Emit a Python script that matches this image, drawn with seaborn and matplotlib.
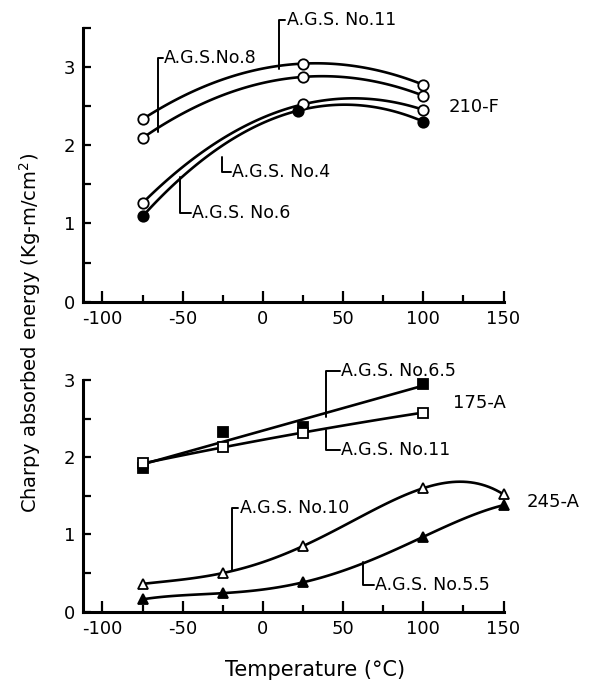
import numpy as np
import pandas as pd
import matplotlib
matplotlib.use('Agg')
import matplotlib.pyplot as plt
import seaborn as sns

sns.set_style('ticks')
plt.rcParams['font.family'] = ['DejaVu Sans']
plt.rcParams['axes.unicode_minus'] = False
for key in ['text.color', 'axes.labelcolor', 'xtick.color', 'ytick.color', 'axes.edgecolor']:
    plt.rcParams[key] = 'black'

# 210-F steel (upper panel)
temp_top = [-75, 25, 100]
ags11_top = [2.33, 3.04, 2.77]
ags8_top = [2.09, 2.87, 2.63]
ags4_top = [1.26, 2.52, 2.45]
temp_ags6 = [-75, 22, 100]
ags6_top = [1.09, 2.44, 2.30]

# 175-A and 245-A steels (lower panel)
temp_175 = [-75, -25, 25, 100]
ags65_175 = [1.86, 2.33, 2.39, 2.95]
ags11_175 = [1.92, 2.13, 2.32, 2.58]
temp_245 = [-75, -25, 25, 100, 150]
ags10_245 = [0.36, 0.50, 0.85, 1.60, 1.52]
ags55_245 = [0.16, 0.24, 0.38, 0.97, 1.38]

x_ticks = [-100, -50, 0, 50, 100, 150]

# leader labels: text, leader x, y start on curve, y at text, text x
labels_top = [
    ('A.G.S.No.8', -65.4, 2.17, 3.11, -61.5),
    ('A.G.S. No.11', 10.2, 2.97, 3.60, 15.0),
    ('A.G.S. No.4', -25.4, 1.85, 1.66, -19.0),
    ('A.G.S. No.6', -51.7, 1.59, 1.13, -44.0),
]
labels_bot = [
    ('A.G.S. No.6.5', 39.6, 2.52, 3.12, 49.0),
    ('A.G.S. No.11', 39.6, 2.36, 2.10, 49.0),
    ('A.G.S. No.10', -19.2, 0.54, 1.34, -14.5),
    ('A.G.S. No.5.5', 62.6, 0.64, 0.35, 70.0),
]

LW = 1.9
MS = 7.5

fig = plt.figure(figsize=(6.03, 6.81), dpi=100)
ax1 = fig.add_axes([0.138, 0.557, 0.697, 0.4025])
ax2 = fig.add_axes([0.138, 0.1018, 0.697, 0.340])


def curve(ax, x, y, order, marker, filled, fill='full'):
    df = pd.DataFrame({'T': x, 'E': y})
    sns.regplot(data=df, x='T', y='E', order=order, ci=None, scatter=False, ax=ax,
                line_kws=dict(color='black', lw=LW, zorder=2))
    ax.plot(x, y, ls='none', marker=marker, ms=MS, mec='black', mew=1.3,
            mfc='black' if filled else 'white', fillstyle=fill,
            markerfacecoloralt='white', zorder=3, clip_on=False)


curve(ax1, temp_top, ags11_top, 2, 'o', False)
curve(ax1, temp_top, ags8_top, 2, 'o', False)
curve(ax1, temp_top, ags4_top, 2, 'o', False)
curve(ax1, temp_ags6, ags6_top, 2, 'o', True)

curve(ax2, temp_175, ags65_175, 1, 's', True)
curve(ax2, temp_175, ags11_175, 2, 's', False)
curve(ax2, temp_245, ags10_245, 4, '^', False)
curve(ax2, temp_245, ags55_245, 4, '^', True)


def leaders(ax, items):
    for text, lx, y0, y1, tx in items:
        ax.plot([lx, lx, tx - 1.0], [y0, y1, y1], color='black', lw=1.4,
                clip_on=False, zorder=4)
        ax.text(tx, y1, text, fontsize=12.5, va='center', ha='left', clip_on=False)


leaders(ax1, labels_top)
leaders(ax2, labels_bot)
ax1.text(115.6, 2.49, '210-F', fontsize=13, va='center', ha='left')
ax2.text(118.3, 2.70, '175-A', fontsize=13, va='center', ha='left')
ax2.text(164.4, 1.42, '245-A', fontsize=13, va='center', ha='left', clip_on=False)

for ax, top in [(ax1, 3.5), (ax2, 3.0)]:
    ax.set_xlim(-112, 150)
    ax.set_ylim(0, top)
    ax.set_xticks(x_ticks)
    ax.set_xticks(np.arange(-100, 151, 25), minor=True)
    ax.set_yticks([0, 1, 2, 3])
    ax.set_yticks(np.arange(0, top + 0.01, 0.5), minor=True)
    ax.tick_params(axis='both', which='both', direction='in', width=1.6,
                   labelsize=13, pad=6, colors='black')
    ax.tick_params(axis='x', which='major', length=8)
    ax.tick_params(axis='x', which='minor', length=5)
    ax.tick_params(axis='y', which='both', length=6)
    ax.set_xlabel('')
    ax.set_ylabel('')
    sns.despine(ax=ax)
    for s in ['left', 'bottom']:
        ax.spines[s].set_linewidth(2.2)
        ax.spines[s].set_color('black')

fig.text(0.05, 0.511, 'Charpy absorbed energy (Kg-m/cm$^2$)', rotation=90,
         ha='center', va='center', fontsize=14)
fig.text(0.522, 0.016, 'Temperature (°C)', ha='center', va='center', fontsize=15)

fig.savefig('out.png', dpi=100)
